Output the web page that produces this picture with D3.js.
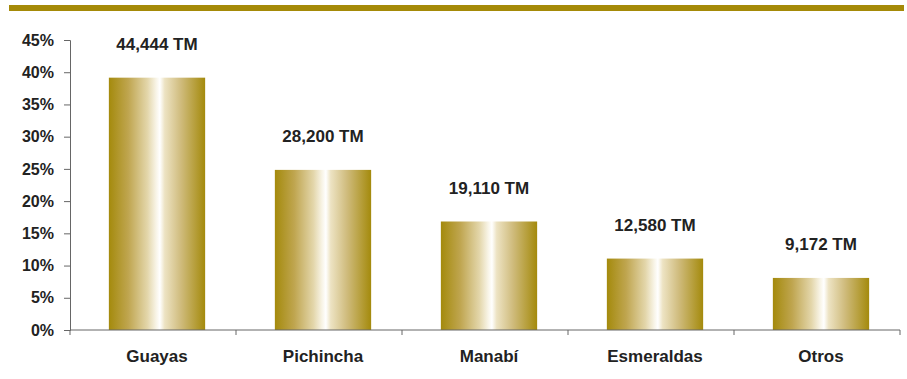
<!DOCTYPE html>
<html>
<head>
<meta charset="utf-8">
<script src="https://cdn.jsdelivr.net/npm/d3@7/dist/d3.min.js"></script>
<style>
  html, body { margin: 0; padding: 0; background: #fff; }
  svg { display: block; }
  text { font-family: "Liberation Sans", Arial, sans-serif; font-weight: bold; fill: #222; }
</style>
</head>
<body>
<svg id="chart" width="907" height="379"></svg>
<script>
// Production by province (metric tonnes)
const categories = ["Guayas", "Pichincha", "Manabí", "Esmeraldas", "Otros"];
const tonnes = [44444, 28200, 19110, 12580, 9172];
const yTicks = [0, 5, 10, 15, 20, 25, 30, 35, 40, 45];

const total = d3.sum(tonnes);
const shares = tonnes.map(v => v / total * 100);

const svg = d3.select("#chart");
const plotLeft = 70, plotRight = 900, plotTop = 40, plotBottom = 330;

// Gold header rule
svg.append("rect")
  .attr("x", 9).attr("y", 5).attr("width", 895).attr("height", 6)
  .attr("fill", "#a58a08");

// Metallic gold gradient for the bars
const grad = svg.append("defs").append("linearGradient")
  .attr("id", "gold").attr("x1", "0%").attr("x2", "100%").attr("y1", "0%").attr("y2", "0%");
[
  [0, "#a48a0c"], [0.2, "#bfa54f"], [0.4, "#e3d6aa"], [0.49, "#f8f4e6"],
  [0.53, "#ffffff"], [0.58, "#ede3c3"], [0.75, "#cfbb7c"], [1, "#a48a0c"]
].forEach(([o, c]) => grad.append("stop").attr("offset", o).attr("stop-color", c));

// Category slots along the axis, and the bar placement within them
const xAxisBand = d3.scaleBand().domain(categories).range([plotLeft, plotRight]);
const x = d3.scaleBand().domain(categories).range([plotLeft + 4, plotRight + 4])
  .paddingInner(0.42).paddingOuter(0.21);
const y = d3.scaleLinear().domain([0, 45]).range([plotBottom, plotTop]);

// Bars
svg.selectAll("rect.bar").data(categories).join("rect")
  .attr("class", "bar")
  .attr("x", d => x(d))
  .attr("y", (d, i) => y(shares[i]))
  .attr("width", x.bandwidth())
  .attr("height", (d, i) => y(0) - y(shares[i]))
  .attr("fill", "url(#gold)");

// Value labels
svg.selectAll("text.val").data(categories).join("text")
  .attr("class", "val")
  .attr("x", d => x(d) + x.bandwidth() / 2)
  .attr("y", (d, i) => y(shares[i]) - 28)
  .attr("text-anchor", "middle")
  .attr("font-size", 17)
  .text((d, i) => d3.format(",")(tonnes[i]) + " TM");

// Y axis
const yAxis = svg.append("g").attr("transform", `translate(${plotLeft},0)`)
  .call(d3.axisLeft(y).tickValues(yTicks).tickFormat(d => d + "%").tickSize(6).tickPadding(10));
yAxis.select(".domain").attr("stroke", "#666");
yAxis.selectAll(".tick line").attr("stroke", "#666");
yAxis.selectAll(".tick text").attr("font-size", 16).attr("font-family", null).attr("fill", "#222");

// X axis: baseline with ticks at category boundaries
const bounds = categories.map(c => xAxisBand(c)).concat([plotRight]);
const xg = svg.append("g");
xg.append("line").attr("x1", plotLeft).attr("x2", plotRight).attr("y1", plotBottom).attr("y2", plotBottom)
  .attr("stroke", "#666");
xg.selectAll("line.t").data(bounds).join("line").attr("class", "t")
  .attr("x1", d => d).attr("x2", d => d).attr("y1", plotBottom).attr("y2", plotBottom + 5)
  .attr("stroke", "#666");
xg.selectAll("text").data(categories).join("text")
  .attr("x", d => x(d) + x.bandwidth() / 2)
  .attr("y", 362)
  .attr("text-anchor", "middle")
  .attr("font-size", 17)
  .text(d => d);
</script>
</body>
</html>
